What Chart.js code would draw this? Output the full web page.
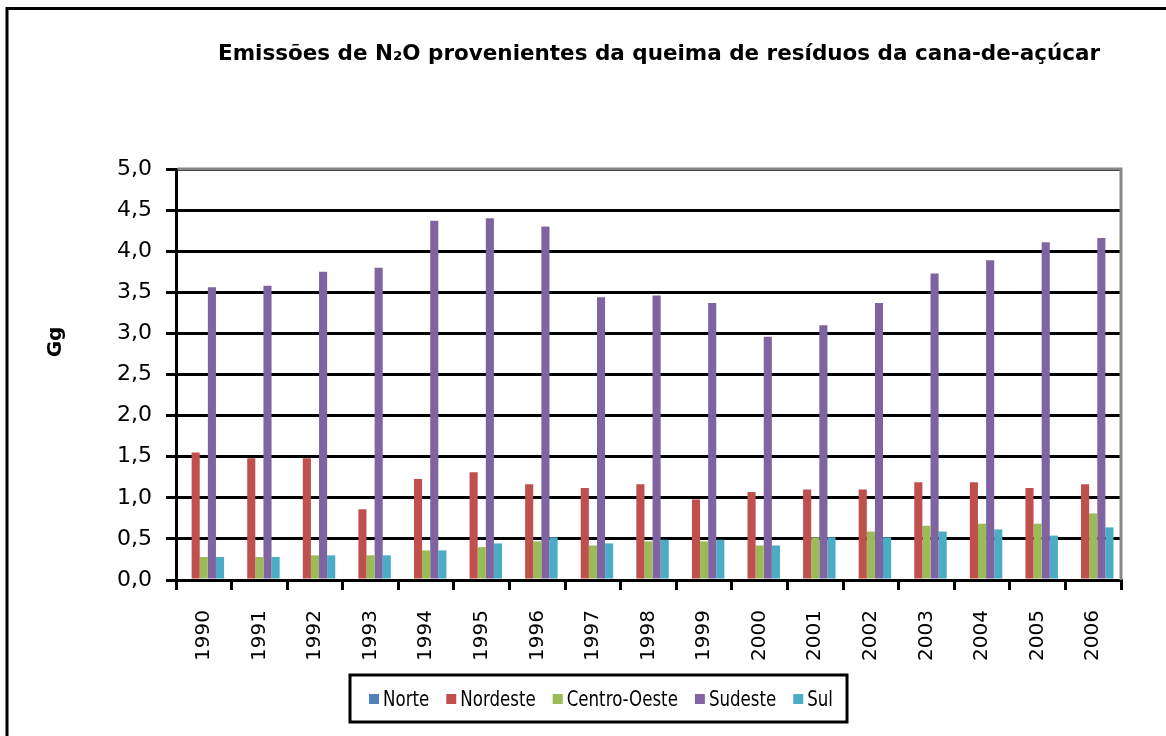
<!DOCTYPE html>
<html>
<head>
<meta charset="utf-8">
<script src="https://cdn.jsdelivr.net/npm/chart.js@4/dist/chart.umd.min.js"></script>
<style>
  html, body { margin: 0; padding: 0; background: #ffffff; }
  #wrap { width: 1166px; height: 736px; position: relative; }
</style>
</head>
<body>
<div id="wrap"><canvas id="c" width="1166" height="736"></canvas></div>
<script>
// ---- data ----
const years = ['1990','1991','1992','1993','1994','1995','1996','1997','1998','1999','2000','2001','2002','2003','2004','2005','2006'];
const norte       = [0,0,0,0,0,0,0,0,0,0,0,0,0,0,0,0,0];
const nordeste    = [1.55,1.48,1.48,0.86,1.23,1.31,1.165,1.12,1.165,0.98,1.07,1.10,1.10,1.19,1.19,1.12,1.165];
const centroOeste = [0.28,0.28,0.30,0.30,0.36,0.40,0.47,0.42,0.47,0.47,0.42,0.52,0.59,0.66,0.685,0.685,0.81];
const sudeste     = [3.56,3.58,3.75,3.80,4.37,4.40,4.30,3.44,3.46,3.37,2.96,3.10,3.37,3.73,3.89,4.11,4.16];
const sul         = [0.28,0.28,0.30,0.30,0.36,0.445,0.52,0.445,0.49,0.49,0.42,0.52,0.52,0.59,0.615,0.54,0.64];
const seriesNames = ['Norte','Nordeste','Centro-Oeste','Sudeste','Sul'];
const yTickLabels = ['0,0','0,5','1,0','1,5','2,0','2,5','3,0','3,5','4,0','4,5','5,0'];
const titleText = 'Emissões de N₂O provenientes da queima de resíduos da cana-de-açúcar';
const yTitleText = 'Gg';

const colors = ['#4F81BD','#C0504D','#9BBB59','#8064A2','#4BACC6'];
const FAM = "'DejaVu Sans', sans-serif";

const seriesData = [norte, nordeste, centroOeste, sudeste, sul];
const datasets = seriesNames.map((n, i) => ({
  label: n,
  data: seriesData[i],
  backgroundColor: colors[i],
  borderWidth: 0,
  categoryPercentage: 0.73,
  barPercentage: 1.0
}));

const decor = {
  id: 'decor',
  afterDraw(chart) {
    const ctx = chart.ctx;
    const a = chart.chartArea;
    ctx.save();
    // plot area border (gray, top & right)
    ctx.strokeStyle = '#868686';
    ctx.lineWidth = 3;
    ctx.beginPath();
    ctx.moveTo(a.left + 1.5, a.top);
    ctx.lineTo(a.right, a.top);
    ctx.lineTo(a.right, a.bottom);
    ctx.stroke();

    // outer chart border (left & top visible)
    ctx.strokeStyle = '#000';
    ctx.lineWidth = 3;
    ctx.beginPath();
    ctx.moveTo(7, 740);
    ctx.lineTo(7, 8.5);
    ctx.lineTo(1170, 8.5);
    ctx.stroke();

    // title (condensed horizontally to the reference width)
    ctx.fillStyle = '#000';
    ctx.textBaseline = 'alphabetic';
    ctx.textAlign = 'left';
    ctx.font = 'bold 22px ' + FAM;
    let w = ctx.measureText(titleText).width;
    let sx = 882 / w;
    ctx.save();
    ctx.translate(218, 60);
    ctx.scale(sx, 1);
    ctx.fillText(titleText, 0, 0);
    ctx.restore();

    // y axis title
    ctx.save();
    ctx.translate(56, 342);
    ctx.rotate(-Math.PI / 2);
    ctx.textAlign = 'center';
    ctx.textBaseline = 'middle';
    ctx.font = 'bold 20px ' + FAM;
    ctx.fillText(yTitleText, 0, 0);
    ctx.restore();

    // legend
    const bx = 350, by = 675, bw = 497, bh = 47;
    ctx.strokeStyle = '#000';
    ctx.lineWidth = 3;
    ctx.strokeRect(bx, by, bw, bh);
    const ds = chart.data.datasets;
    ctx.font = '22px ' + FAM;
    let tot = 0;
    ds.forEach(d => tot += ctx.measureText(d.label).width);
    const lsx = 326 / tot;
    ctx.textBaseline = 'middle';
    ctx.textAlign = 'left';
    let x = 369;
    const cy = 699;
    ds.forEach(d => {
      ctx.fillStyle = d.backgroundColor;
      ctx.fillRect(x, cy - 5, 10, 10);
      ctx.fillStyle = '#000';
      ctx.save();
      ctx.translate(x + 14, cy + 1);
      ctx.scale(lsx, 1);
      ctx.fillText(d.label, 0, 0);
      ctx.restore();
      x += 14 + ctx.measureText(d.label).width * lsx + 17;
    });
    ctx.restore();
  }
};

new Chart(document.getElementById('c'), {
  type: 'bar',
  data: { labels: years, datasets },
  options: {
    responsive: false,
    animation: false,
    devicePixelRatio: 1,
    layout: { padding: { left: 0, top: 169, right: 45, bottom: 0 } },
    plugins: { legend: { display: false }, title: { display: false }, tooltip: { enabled: false } },
    scales: {
      x: {
        z: 1,
        grid: { offset: true, drawOnChartArea: false, drawTicks: true, tickLength: 10, color: '#000', lineWidth: 3 },
        border: { display: true, color: '#000', width: 3 },
        ticks: {
          autoSkip: false, maxRotation: 90, minRotation: 90, padding: 20,
          color: '#000', font: { family: FAM, size: 20 }
        },
        afterFit(s) { s.height = 736 - 580; }
      },
      y: {
        min: 0, max: 5,
        ticks: {
          stepSize: 0.5, padding: 14, color: '#000',
          font: { family: FAM, size: 22 },
          callback: (v, i) => yTickLabels[i]
        },
        grid: { color: '#000', lineWidth: 3, tickLength: 10, drawTicks: true },
        border: { display: true, color: '#000', width: 3 },
        afterFit(s) { s.width = 176; }
      }
    }
  },
  plugins: [decor]
});
</script>
</body>
</html>
